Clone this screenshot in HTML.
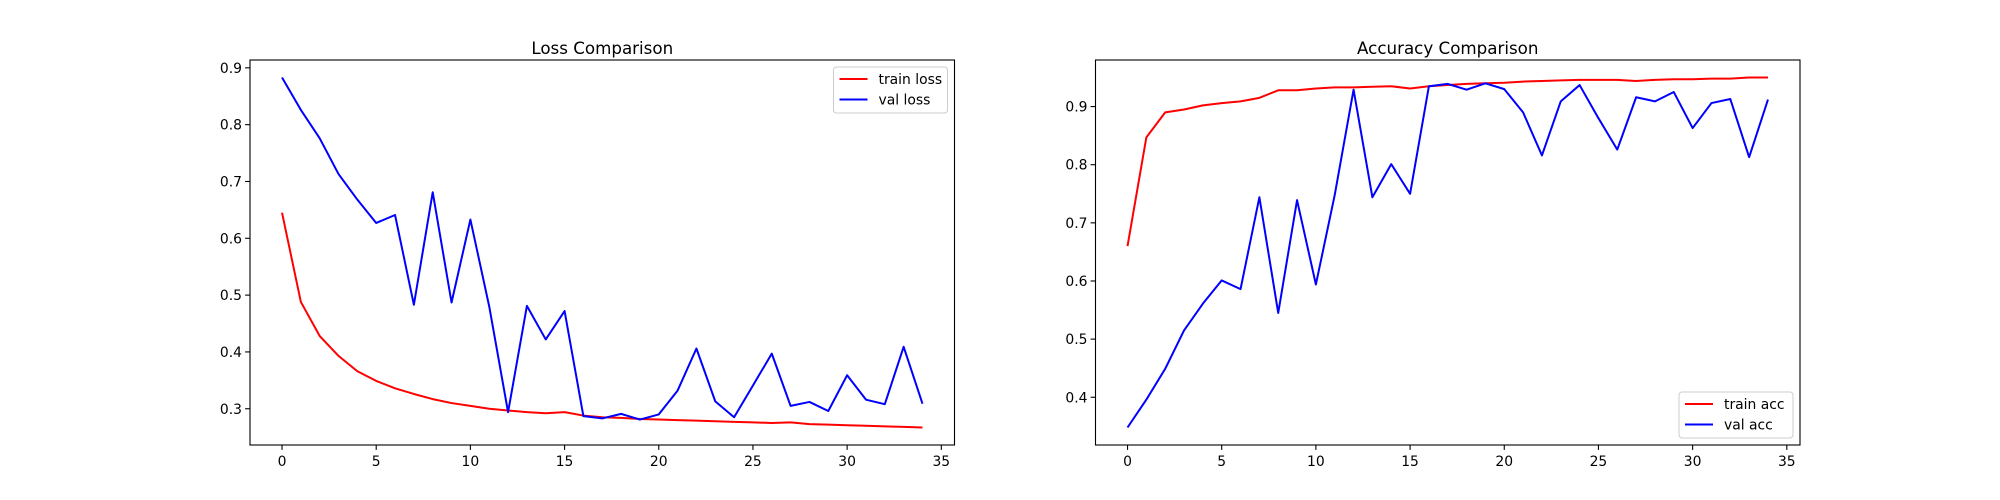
<!DOCTYPE html>
<html><head><meta charset="utf-8"><style>
html,body{margin:0;padding:0;background:#fff;}
svg{display:block;font-family:"DejaVu Sans","Liberation Sans",sans-serif;}
</style></head><body>
<svg id="fig" width="2000" height="500" viewBox="0 0 2000 500" xmlns="http://www.w3.org/2000/svg"></svg>
<script>
const epochs = Array.from({length:35},(_,i)=>i);
const trainLoss = [0.645,0.488,0.428,0.393,0.366,0.349,0.336,0.326,0.317,0.310,0.305,0.300,0.297,0.294,0.292,0.294,0.288,0.285,0.284,0.282,0.281,0.280,0.279,0.278,0.277,0.276,0.275,0.276,0.273,0.272,0.271,0.270,0.269,0.268,0.267];
const valLoss = [0.883,0.826,0.776,0.713,0.668,0.627,0.641,0.483,0.681,0.487,0.633,0.480,0.294,0.481,0.422,0.472,0.287,0.283,0.291,0.281,0.290,0.332,0.406,0.313,0.285,0.341,0.397,0.305,0.312,0.296,0.359,0.316,0.308,0.409,0.309];
const trainAcc = [0.660,0.847,0.890,0.895,0.902,0.906,0.909,0.915,0.928,0.928,0.931,0.933,0.933,0.934,0.935,0.931,0.935,0.937,0.939,0.940,0.941,0.943,0.944,0.945,0.946,0.946,0.946,0.944,0.946,0.947,0.947,0.948,0.948,0.950,0.950];
const valAcc = [0.348,0.396,0.449,0.515,0.561,0.601,0.586,0.744,0.545,0.739,0.594,0.748,0.929,0.744,0.801,0.750,0.935,0.939,0.929,0.940,0.930,0.890,0.816,0.909,0.937,0.880,0.826,0.916,0.909,0.925,0.863,0.906,0.913,0.813,0.912];
const xTicks = [0,5,10,15,20,25,30,35];
const lossYTicks = [0.3,0.4,0.5,0.6,0.7,0.8,0.9];
const accYTicks = [0.4,0.5,0.6,0.7,0.8,0.9];

const NS="http://www.w3.org/2000/svg";
const svg=document.getElementById('fig');
function el(tag,attrs,parent){const e=document.createElementNS(NS,tag);for(const k in attrs)e.setAttribute(k,attrs[k]);(parent||svg).appendChild(e);return e;}

function panel(cfg){
  const {x0,x1,y0,y1,series,yTicks,title,legendPos,name}=cfg;
  const g=el('g',{});
  
  
  const all=[].concat(...series.map(s=>s.data));
  const mn=Math.min(...all),mx=Math.max(...all),pad=(mx-mn)*0.05;
  const ymin=mn-pad,ymax=mx+pad;
  const xmin=-1.7,xmax=35.7;
  const sx=v=>x0+(v-xmin)/(xmax-xmin)*(x1-x0);
  const sy=v=>y1-(v-ymin)/(ymax-ymin)*(y1-y0);
  const t=el('text',{x:(x0+x1)/2,y:y0-6,'text-anchor':'middle','font-size':'16.7px',fill:'#000'},g);
  t.textContent=title;
  
  
  xTicks.forEach(v=>{
    const x=sx(v);
    el('line',{x1:x,x2:x,y1:y1,y2:y1+4.9,stroke:'#000','stroke-width':1.1},g);
    const tx=el('text',{x:x,y:y1+21,'text-anchor':'middle','font-size':'13.9px'},g);
    tx.textContent=v;
    
    
  });
  yTicks.forEach(v=>{
    const y=sy(v);
    el('line',{x1:x0-4.9,x2:x0,y1:y,y2:y,stroke:'#000','stroke-width':1.1},g);
    const ty=el('text',{x:x0-8,y:y+5,'text-anchor':'end','font-size':'13.9px'},g);
    ty.textContent=v.toFixed(1);
    
    
  });
  series.forEach(s=>{
    const p=el('polyline',{points:s.data.map((v,i)=>sx(epochs[i]).toFixed(2)+','+sy(v).toFixed(2)).join(' '),fill:'none',stroke:s.color,'stroke-width':2,'stroke-linejoin':'round'},g);
    
    
  });
  el('rect',{x:x0,y:y0,width:x1-x0,height:y1-y0,fill:'none',stroke:'#000','stroke-width':1.1},g);
  const lw=114,lh=46;
  const lx=x1-7-lw, ly=legendPos==='top'?y0+7:y1-7-lh;
  const lg=el('g',{},g);
  
  
  el('rect',{x:lx,y:ly,width:lw,height:lh,rx:3,fill:'#fff','fill-opacity':0.8,stroke:'#ccc','stroke-width':1},lg);
  series.forEach((s,i)=>{
    const yy=ly+12+i*20.5;
    el('line',{x1:lx+6,x2:lx+34,y1:yy,y2:yy,stroke:s.color,'stroke-width':2},lg);
    const lt=el('text',{x:lx+45,y:yy+5,'font-size':'13.9px'},lg);
    lt.textContent=s.label;
    
    
  });
}
panel({x0:250,x1:954.5,y0:60,y1:445,name:'loss-chart',title:'Loss Comparison',yTicks:lossYTicks,legendPos:'top',
  series:[{data:trainLoss,color:'#ff0000',label:'train loss'},{data:valLoss,color:'#0000ff',label:'val loss'}]});
panel({x0:1095.5,x1:1800,y0:60,y1:445,name:'accuracy-chart',title:'Accuracy Comparison',yTicks:accYTicks,legendPos:'bottom',
  series:[{data:trainAcc,color:'#ff0000',label:'train acc'},{data:valAcc,color:'#0000ff',label:'val acc'}]});
</script>
</body></html>
